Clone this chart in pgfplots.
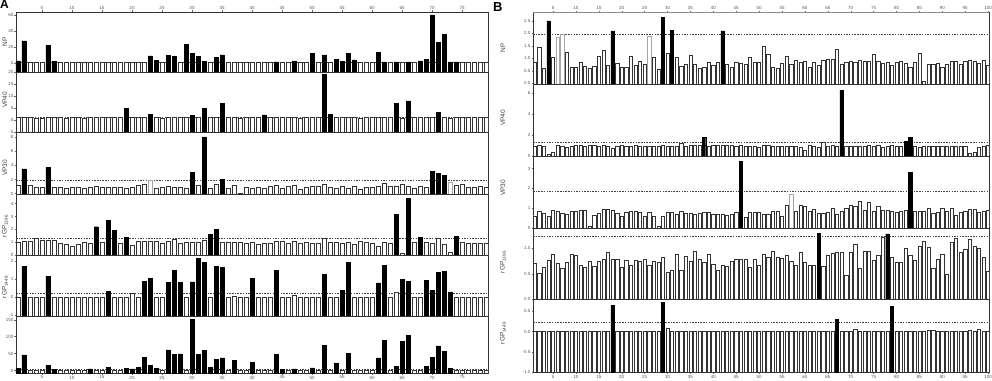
\documentclass[border=0pt]{standalone}
\usepackage{fontspec}
\setmainfont{Liberation Sans}
\usepackage{pgfplots}
\pgfplotsset{compat=1.18}
\pgfplotsset{
 sub/.style={scale only axis, anchor=south west,
   axis line style={black!80, line width=0.5pt},
   tick style={black!60, line width=0.3pt},
   major tick length=1.5pt, tick align=outside,
   ytick pos=left,
   ticklabel style={font=\fontsize{4.5}{5}\selectfont, text=black!65, inner sep=1pt},
   /pgf/number format/assume math mode=true,
   clip=true},
 subA/.style={sub, width=472pt, xmin=0.667, xmax=79.333, xtick={5,10,...,75}, bar width=4pt},
 subB/.style={sub, width=456pt, xmin=0.633, xmax=100.2, xtick={5,10,...,100}, bar width=3.2pt},
 mid/.style={xmajorticks=false},
 topx/.style={xtick pos=right, xticklabel pos=right},
 botx/.style={xtick pos=left, xticklabel pos=left},
 wbar/.style={ybar, bar shift=0pt, fill=white, draw=black!80, line width=0.45pt},
 gbar/.style={ybar, bar shift=0pt, fill=white, draw=black!35, line width=0.45pt},
 kbar/.style={ybar, bar shift=0pt, fill=black, draw=black, line width=0.45pt},
}
\tikzset{thr/.style={dash pattern=on 1.5pt off 1.2pt, black!75, line width=0.45pt},
 ylab/.style={rotate=90, font=\fontsize{6.5}{7}\selectfont, text=black!75, inner sep=0pt}}
\begin{document}
\begin{tikzpicture}
\useasboundingbox (0,0) rectangle (992pt,380pt);
% ================= PANEL A =================
% A1 NP
\begin{axis}[subA, topx, at={(16pt,308pt)}, height=60pt, ymin=0, ymax=75,
  ytick={11.25,31.25,51.25,71.25}, yticklabels={0,20,40,60}]
\draw[thr] (axis cs:0.667,12.5) -- (axis cs:79.333,12.5);
\addplot[wbar] table[row sep=\\, x expr=\coordindex+1, y expr=\thisrowno{0}+11.25] {
1\\1\\1\\1\\1\\1\\1\\1\\1\\1\\1\\1\\1\\1\\1\\1\\1\\1\\1\\1\\
1\\1\\1\\1\\1\\1\\1\\1\\1\\1\\1\\1\\1\\1\\1\\1\\1\\1\\1\\1\\
1\\1\\1\\1\\1\\1\\1\\1\\1\\1\\1\\1\\1\\1\\1\\1\\1\\1\\1\\1\\
1\\1\\1\\1\\1\\1\\1\\1\\1\\1\\1\\1\\1\\1\\1\\1\\1\\1\\1\\};
\addplot[kbar] table[row sep=\\, x index=0, y expr=\thisrowno{1}+11.25] {
1 2.5\\2 27.5\\6 22\\7 2\\23 8.75\\24 3\\26 9.5\\27 8\\29 23.3\\30 11.7\\31 8\\32 2\\34 6.7\\35 10\\
44 1.5\\47 2.5\\50 12\\52 10\\54 4.6\\55 1.7\\56 12\\57 3.75\\61 13.3\\62 1.5\\64 1.5\\66 1.5\\
68 2.5\\69 4.2\\70 60\\71 25.8\\72 36\\73 1.5\\74 1.5\\};
\end{axis}
% A2 VP40
\begin{axis}[subA, mid, at={(16pt,248pt)}, height=60pt, ymin=0, ymax=25,
  ytick={0,5,10,15,20,25}, yticklabels={-5,0,5,10,15,20}]
\draw[thr] (axis cs:0.667,6.3) -- (axis cs:79.333,6.3);
\addplot[wbar] table[row sep=\\, x expr=\coordindex+1, y expr=\thisrowno{0}+5] {
1\\1\\1\\0.6\\0.6\\1\\1\\1\\0.6\\1\\1\\0.6\\1\\1\\1\\1\\1\\1\\1\\1\\
1\\1\\1\\1\\0.6\\1\\1\\1\\1\\1\\1\\1\\1\\1\\1\\1\\1\\0.6\\1\\1\\
1\\1\\1\\1\\1\\1\\1\\0.6\\1\\1\\1\\1\\1\\1\\1\\1\\1\\0.6\\1\\1\\
1\\1\\1\\1\\0.6\\1\\1\\1\\1\\1\\1\\1\\0.6\\1\\1\\1\\1\\1\\1\\};
\addplot[kbar] table[row sep=\\, x index=0, y expr=\thisrowno{1}+5] {
19 4.9\\23 2.4\\30 2.0\\32 4.9\\35 6.9\\42 2.1\\52 19.2\\53 2.3\\64 6.9\\66 8.0\\71 3.1\\};
\end{axis}
% A3 VP30
\begin{axis}[subA, mid, at={(16pt,186pt)}, height=62pt, ymin=0, ymax=8.75,
  ytick={0.05,2.05,4.05,6.05,8.05}, yticklabels={0,2,4,6,8}]
\draw[thr] (axis cs:0.667,1.95) -- (axis cs:79.333,1.95);
\addplot[wbar] table[row sep=\\, x expr=\coordindex+1, y expr=\thisrowno{0}+0.05] {
1.13\\1\\1.13\\0.87\\0.87\\1\\0.87\\0.87\\0.78\\0.9\\
0.9\\0.78\\0.9\\1.1\\0.9\\0.87\\0.87\\0.87\\0.7\\0.87\\
1.17\\1.27\\1.83\\0.78\\0.87\\1.0\\0.87\\0.9\\0.78\\1\\
1.13\\1\\0.78\\1.27\\1\\0.78\\1.17\\0.1\\0.87\\0.78\\
0.87\\0.7\\1.0\\1.17\\0.78\\1.0\\1.17\\0.66\\0.87\\1.0\\
1.0\\1.36\\0.87\\0.78\\1.0\\0.78\\1.0\\0.6\\0.87\\0.87\\
1.0\\1.45\\1.0\\1.0\\1.27\\1.0\\0.78\\1.0\\0.87\\1\\
1\\1\\1.6\\1.17\\1.36\\0.87\\0.87\\1.0\\0.9\\};
\addplot[gbar] table[row sep=\\, x index=0, y expr=\thisrowno{1}+0.05] {23 1.83\\73 1.6\\};
\addplot[kbar] table[row sep=\\, x index=0, y expr=\thisrowno{1}+0.05] {
2 3.5\\6 3.75\\30 3.05\\32 8.0\\35 2.0\\70 3.15\\71 2.9\\72 2.6\\};
\end{axis}
% A4 rGP1396
\begin{axis}[subA, mid, at={(16pt,124.5pt)}, height=61.5pt, ymin=0, ymax=4.79,
  ytick={0.04,1.04,2.04,3.04,4.04}, yticklabels={0,1,2,3,4}]
\draw[thr] (axis cs:0.667,1.34) -- (axis cs:79.333,1.34);
\addplot[wbar] table[row sep=\\, x expr=\coordindex+1, y expr=\thisrowno{0}+0.04] {
0.97\\1.1\\1.1\\1.28\\1.18\\1.18\\1.18\\0.9\\0.85\\0.72\\
0.85\\0.97\\0.9\\1\\0.97\\1\\1\\0.92\\1\\0.77\\
1.05\\1.05\\1.1\\1.05\\0.92\\1.05\\1.23\\0.9\\0.97\\0.97\\
1.0\\1.13\\1\\1\\1.0\\0.97\\0.97\\0.97\\0.92\\0.97\\
0.85\\0.92\\0.92\\1.1\\1.1\\0.92\\1.1\\0.92\\1.0\\0.92\\
0.9\\1.3\\0.97\\0.97\\0.92\\0.97\\0.85\\1.1\\0.97\\0.92\\
0.72\\0.97\\0.92\\1\\0.15\\1\\0.97\\1\\0.97\\0.92\\
1.3\\0.85\\0.25\\1\\1.0\\0.9\\0.92\\0.92\\0.92\\};
\addplot[kbar] table[row sep=\\, x index=0, y expr=\thisrowno{1}+0.04] {
14 2.2\\16 2.7\\17 1.9\\19 1.4\\33 1.6\\34 2.0\\64 3.15\\66 4.4\\68 1.35\\74 1.45\\};
\end{axis}
% A5 rGP1448
\begin{axis}[subA, mid, at={(16pt,64pt)}, height=60.5pt, ymin=0, ymax=3.38,
  ytick={0.05,1.05,2.05,3.05}, yticklabels={-1,0,1,2}]
\draw[thr] (axis cs:0.667,1.29) -- (axis cs:79.333,1.29);
\addplot[wbar] table[row sep=\\, x expr=\coordindex+1, y expr=\thisrowno{0}+1.05] {
0\\0\\0\\0\\0\\0\\0\\0\\0\\0\\0\\0\\0\\0\\0\\0\\0\\0\\0\\0.2\\
0\\0\\0\\0\\0\\0\\0\\0\\0\\0\\0\\0\\0\\0\\0\\0\\0.05\\0\\0\\0\\
0\\0\\0\\0\\0\\0\\0.1\\0\\0\\0\\0\\0\\0\\0\\0\\0\\0\\0\\0\\0\\
0\\0\\0\\0.3\\0\\0\\0\\0\\0\\0\\0\\0\\0\\0\\0\\0\\0\\0\\0\\};
\addplot[kbar] table[row sep=\\, x index=0, y expr=\thisrowno{1}+1.05] {
2 1.72\\6 1.18\\16 0.33\\22 0.89\\23 1.04\\26 0.82\\27 1.5\\28 0.82\\30 0.85\\31 2.15\\32 1.93\\
34 1.74\\35 1.68\\40 1.04\\44 1.5\\52 1.26\\55 0.39\\56 1.93\\61 0.8\\62 1.78\\65 0.98\\66 0.9\\
69 0.94\\70 0.39\\71 1.37\\72 1.46\\73 0.3\\};
\end{axis}
% A6
\begin{axis}[subA, botx, at={(16pt,6.8pt)}, height=57.2pt, ymin=0, ymax=169,
  ytick={8,58,108,158}, yticklabels={0,50,100,150}]
\draw[thr] (axis cs:0.667,11) -- (axis cs:79.333,11);
\addplot[wbar] table[row sep=\\, x expr=\coordindex+1, y expr=\thisrowno{0}+8] {
0\\0\\0\\0\\0\\0\\0\\0\\0\\0\\0\\0\\0\\0\\0\\0\\0\\0\\0\\0\\
0\\0\\0\\0\\0\\0\\0\\0\\0\\0\\0\\0\\0\\0\\0\\0\\0\\0\\0\\0\\
0\\0\\0\\0\\0\\0\\0\\0\\0\\0\\0\\0\\0\\0\\0\\0\\0\\0\\0\\0\\
0\\0\\0\\0\\0\\0\\0\\0\\0\\0\\0\\0\\0\\0\\0\\0\\0\\0\\0\\};
\addplot[kbar] table[row sep=\\, x index=0, y expr=\thisrowno{1}+8] {
1 5.6\\2 46\\6 15\\7 4\\13 5\\16 10\\19 6\\20 5\\21 8.5\\22 39.5\\23 15\\24 6.5\\26 61\\27 48\\
28 49\\30 150\\31 48\\32 60\\33 8.5\\34 32\\35 37\\37 30\\40 24.5\\44 48\\45 4\\47 5\\50 8\\
52 74\\54 22.6\\56 51\\61 37\\62 90\\64 13\\65 86\\66 104\\69 13\\70 39\\71 73\\72 57\\73 6\\};
\end{axis}
% ================= PANEL B =================
% B1 NP
\begin{axis}[subB, topx, at={(533pt,296pt)}, height=71.7pt, ymin=0, ymax=2.87,
  ytick={0.03,0.53,1.03,1.53,2.03,2.53}, yticklabels={0.0,0.5,1.0,1.5,2.0,2.5}]
\draw[thr] (axis cs:0.633,1.98) -- (axis cs:100.2,1.98);
\addplot[wbar] table[row sep=\\, x expr=\coordindex+1, y expr=\thisrowno{0}+0.03] {
0.86\\1.46\\0.6\\0.5\\1.04\\1.84\\1.95\\1.24\\0.66\\0.64\\
0.84\\0.68\\0.6\\0.68\\1.1\\1.32\\0.72\\0.5\\0.8\\0.64\\
0.64\\1.1\\0.74\\0.9\\0.78\\1.89\\1.03\\0.56\\0.5\\1.2\\
0.5\\1.03\\0.7\\0.76\\1.13\\0.78\\0.6\\0.64\\0.86\\0.72\\
0.86\\0.5\\0.76\\0.66\\0.86\\0.8\\0.76\\1.04\\0.86\\0.86\\
1.47\\1.16\\0.66\\0.62\\0.8\\1.1\\0.77\\0.93\\0.86\\0.89\\
0.66\\0.84\\0.71\\0.93\\0.97\\0.97\\1.37\\0.77\\0.84\\0.9\\
0.86\\0.93\\0.9\\0.89\\1.16\\0.9\\0.8\\0.86\\0.73\\0.84\\
0.9\\0.8\\0.66\\0.84\\1.2\\0.1\\0.77\\0.77\\0.8\\0.66\\
0.77\\0.9\\0.89\\0.77\\0.89\\0.93\\0.9\\0.82\\0.93\\0.71\\};
\addplot[gbar] table[row sep=\\, x index=0, y expr=\thisrowno{1}+0.03] {6 1.84\\7 1.95\\26 1.89\\};
\addplot[kbar] table[row sep=\\, x index=0, y expr=\thisrowno{1}+0.03] {
4 2.5\\18 2.1\\29 2.64\\31 2.13\\42 2.1\\};
\end{axis}
% B2 VP40
\begin{axis}[subB, mid, at={(533pt,223.3pt)}, height=72.7pt, ymin=0, ymax=7,
  ytick={0.1,2.1,4.1,6.1}, yticklabels={0,2,4,6}]
\draw[thr] (axis cs:0.633,1.4) -- (axis cs:100.2,1.4);
\addplot[wbar] table[row sep=\\, x expr=\coordindex+1, y expr=\thisrowno{0}+0.1] {
0.87\\0.98\\0.87\\0.16\\0.3\\0.98\\0.93\\0.8\\0.87\\0.98\\
0.98\\0.93\\0.98\\0.98\\0.93\\0.98\\0.87\\0.7\\0.93\\0.98\\
0.87\\0.93\\0.98\\0.93\\0.93\\0.93\\0.93\\0.93\\0.98\\0.93\\
0.93\\0.93\\1.15\\0.87\\1.0\\1.05\\1.0\\1\\0.9\\1.05\\
1.05\\1.05\\1.05\\1.0\\0.93\\1.0\\0.93\\0.93\\0.87\\0.8\\
1.05\\1.0\\0.87\\0.93\\0.87\\0.93\\0.87\\0.87\\0.8\\0.55\\
1.0\\0.9\\0.8\\1.25\\0.93\\1.0\\0.93\\1\\0.93\\0.87\\
0.87\\0.87\\0.87\\1.0\\0.87\\1.0\\0.8\\0.87\\1.05\\0.87\\
0.93\\1\\1\\0.93\\0.8\\0.93\\0.93\\0.87\\0.87\\0.87\\
0.87\\0.87\\0.87\\0.93\\0.87\\0.23\\0.3\\0.8\\0.93\\0.98\\};
\addplot[kbar] table[row sep=\\, x index=0, y expr=\thisrowno{1}+0.1] {
38 1.73\\68 6.3\\82 1.35\\83 1.73\\};
\end{axis}
% B3 VP30
\begin{axis}[subB, mid, at={(533pt,151.7pt)}, height=71.6pt, ymin=0, ymax=3.63,
  ytick={0.03,1.03,2.03,3.03}, yticklabels={0,1,2,3}]
\draw[thr] (axis cs:0.633,1.88) -- (axis cs:100.2,1.88);
\addplot[wbar] table[row sep=\\, x expr=\coordindex+1, y expr=\thisrowno{0}+0.03] {
0.6\\0.82\\0.73\\0.6\\0.87\\0.82\\0.73\\0.68\\0.82\\0.85\\
0.9\\0.87\\0.05\\0.65\\0.73\\0.92\\0.94\\0.87\\0.73\\0.6\\
0.78\\0.82\\0.82\\0.77\\0.56\\0.78\\0.6\\0.05\\0.6\\0.78\\
0.78\\0.68\\0.82\\0.73\\0.73\\0.68\\0.73\\0.77\\0.77\\0.7\\
0.7\\0.68\\0.62\\0.68\\0.78\\1\\0.53\\0.78\\0.78\\0.78\\
0.68\\0.68\\0.82\\0.82\\0.56\\1.13\\1.68\\0.82\\1.13\\1.08\\
0.85\\0.94\\0.73\\0.73\\0.78\\1.0\\0.7\\0.82\\0.99\\1.13\\
1.08\\1.33\\0.9\\1.3\\0.82\\1.11\\0.87\\0.87\\0.85\\0.78\\
0.82\\0.87\\1\\0.85\\0.82\\0.82\\0.99\\0.73\\0.78\\0.99\\
0.85\\1.0\\0.65\\0.77\\0.85\\0.94\\0.96\\0.78\\0.85\\0.9\\};
\addplot[gbar] table[row sep=\\, x index=0, y expr=\thisrowno{1}+0.03] {57 1.68\\};
\addplot[kbar] table[row sep=\\, x index=0, y expr=\thisrowno{1}+0.03] {46 3.38\\83 2.82\\};
\end{axis}
% B4 rGP
\begin{axis}[subB, mid, at={(533pt,80.7pt)}, height=71pt, ymin=0, ymax=1.39,
  ytick={0,0.5,1.0}, yticklabels={0.0,0.5,1.0}]
\draw[thr] (axis cs:0.633,1.24) -- (axis cs:100.2,1.24);
\addplot[wbar] table[row sep=\\, x expr=\coordindex+1, y expr=\thisrowno{0}] {
0.7\\0.51\\0.62\\0.76\\0.88\\0.7\\0.6\\0.72\\0.89\\0.87\\
0.67\\0.62\\0.75\\0.65\\0.75\\0.79\\0.92\\0.79\\0.79\\0.62\\
0.76\\0.67\\0.76\\0.75\\0.79\\0.66\\0.75\\0.72\\0.82\\0.53\\
0.57\\0.89\\0.57\\0.84\\0.75\\0.94\\0.79\\0.72\\0.89\\0.68\\
0.56\\0.67\\0.64\\0.75\\0.79\\0.78\\0.79\\0.63\\0.79\\0.67\\
0.89\\0.82\\0.94\\0.82\\0.81\\0.87\\0.75\\0.67\\0.92\\0.73\\
0.67\\0.66\\1\\0.65\\0.86\\0.91\\0.92\\0.93\\0.47\\0.92\\
1.08\\0.6\\0.95\\0.94\\0.76\\0.87\\1.22\\1\\0.83\\0.73\\
0.72\\1.0\\0.87\\0.76\\1.04\\1.13\\1.02\\0.6\\0.79\\0.89\\
0.49\\1.11\\1.2\\0.93\\0.99\\1.17\\1.03\\1.0\\0.82\\0.54\\};
\addplot[kbar] table[row sep=\\, x index=0, y expr=\thisrowno{1}] {63 1.29\\78 1.28\\};
\end{axis}
% B5 rGP
\begin{axis}[subB, botx, at={(533pt,7.7pt)}, height=73pt, ymin=0, ymax=1.79,
  ytick={0,0.5,1,1.5}, yticklabels={-1.0,-0.5,0.0,0.5}]
\draw[thr] (axis cs:0.633,1.24) -- (axis cs:100.2,1.24);
\addplot[wbar] table[row sep=\\, x expr=\coordindex+1, y expr=\thisrowno{0}+1] {
0\\0\\0\\0\\0\\0\\0\\0\\0\\0\\0\\0\\0\\0\\0\\0\\0\\0\\0\\0\\
0\\0\\0\\0\\0\\0\\0\\0\\0\\0.08\\0\\0\\0\\0\\0\\0\\0\\0\\0\\0\\
0\\0\\0\\0\\0\\0\\0\\0\\0\\0\\0\\0\\0\\0\\0\\0\\0\\0\\0\\0\\
0\\0\\0\\0\\0\\0\\0\\0\\0\\0\\0.05\\0\\0\\0\\0\\0\\0\\0\\0\\0\\
0\\0\\0\\0\\0\\0\\0.03\\0.03\\0\\0\\0\\0\\0\\0\\0\\0.03\\0\\0.06\\0\\0\\};
\addplot[kbar] table[row sep=\\, x index=0, y expr=\thisrowno{1}+1] {
18 0.65\\29 0.72\\67 0.3\\79 0.61\\};
\end{axis}
% decorations and labels
\draw[black!45, line width=1.2pt] (533pt,367.8pt) -- (989pt,367.8pt);
\node[anchor=north west, inner sep=0pt, font=\bfseries\fontsize{12}{12}\selectfont] at (0pt,380pt) {A};
\node[anchor=north west, inner sep=0pt, font=\bfseries\fontsize{13}{13}\selectfont] at (493pt,378pt) {B};
\node[ylab] at (5pt,338pt) {NP};
\node[ylab] at (5pt,280pt) {VP40};
\node[ylab] at (5pt,212pt) {VP30};
\node[ylab] at (5pt,154pt) {rGP\textsubscript{1396}};
\node[ylab] at (5pt,93pt) {rGP\textsubscript{1448}};
\node[ylab] at (503pt,332pt) {NP};
\node[ylab] at (503pt,262pt) {VP40};
\node[ylab] at (503pt,192pt) {VP30};
\node[ylab] at (503pt,118pt) {rGP\textsubscript{1396}};
\node[ylab] at (503pt,47pt) {rGP\textsubscript{1448}};
\end{tikzpicture}
\end{document}
